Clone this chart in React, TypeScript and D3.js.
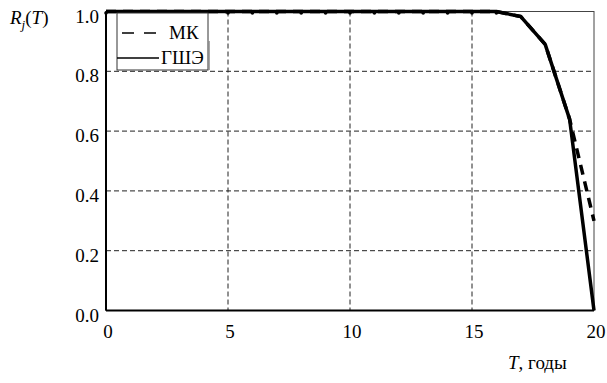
import React, { useEffect, useRef } from 'react'
import * as d3 from 'd3'

const years = [0, 1, 2, 3, 4, 5, 6, 7, 8, 9, 10, 11, 12, 13, 14, 15, 16, 17, 18, 19, 20]
const mkValues = [1, 1, 1, 1, 1, 1, 1, 1, 1, 1, 1, 1, 1, 1, 1, 1, 1, 0.983, 0.89, 0.64, 0.3]
const gseValues = [1, 1, 1, 1, 1, 1, 1, 1, 1, 1, 1, 1, 1, 1, 1, 1, 1, 0.983, 0.89, 0.64, 0.0]
const xTicks = [0, 5, 10, 15, 20]
const yTicks = [0, 0.2, 0.4, 0.6, 0.8, 1.0]
const legendLabels = ['МК', 'ГШЭ']

const App = () => {
    const ref = useRef(null)

    useEffect(() => {
        const width = 607, height = 383
        const margin = { top: 11.5, right: 13, bottom: 72.5, left: 106 }
        const w = width - margin.left - margin.right
        const h = height - margin.top - margin.bottom
        const font = 'Liberation Serif, DejaVu Serif, serif'

        const x = d3.scaleLinear().domain([0, 20]).range([0, w])
        const y = d3.scaleLinear().domain([0, 1]).range([h, 0])

        const root = d3.select(ref.current)
        root.selectAll('*').remove()

        const svg = root.append('svg')
            .attr('width', width)
            .attr('height', height)
            .style('position', 'absolute')
            .style('left', 0)
            .style('top', 0)
            .style('background', '#fff')
            .style('font-family', font)

        const g = svg.append('g')
            .attr('transform', 'translate(' + margin.left + ',' + margin.top + ')')

        // grid
        g.selectAll('.gx')
            .data(xTicks.filter(d => d > 0 && d < 20))
            .enter().append('line')
            .attr('x1', d => x(d)).attr('x2', d => x(d))
            .attr('y1', 0).attr('y2', h)
            .attr('stroke', '#222').attr('stroke-width', 1)
            .attr('stroke-dasharray', '5,3')

        g.selectAll('.gy')
            .data(yTicks.filter(d => d > 0 && d < 1))
            .enter().append('line')
            .attr('x1', 0).attr('x2', w)
            .attr('y1', d => y(d)).attr('y2', d => y(d))
            .attr('stroke', '#222').attr('stroke-width', 1)
            .attr('stroke-dasharray', '5,3')

        // frame
        g.append('rect')
            .attr('x', 0).attr('y', 0)
            .attr('width', w).attr('height', h)
            .attr('fill', 'none')
            .attr('stroke', '#444').attr('stroke-width', 1)
        g.append('line').attr('x1', 0).attr('x2', 0).attr('y1', 0).attr('y2', h)
            .attr('stroke', '#000').attr('stroke-width', 2)
        g.append('line').attr('x1', 0).attr('x2', w).attr('y1', h).attr('y2', h)
            .attr('stroke', '#000').attr('stroke-width', 2)

        // tick labels
        g.selectAll('.yl')
            .data(yTicks)
            .enter().append('text')
            .text(d => d.toFixed(1))
            .attr('x', -7)
            .attr('y', d => y(d) + 11)
            .attr('text-anchor', 'end')
            .style('font-size', '19px')

        g.selectAll('.xl')
            .data(xTicks)
            .enter().append('text')
            .text(d => d)
            .attr('x', d => x(d) + 2)
            .attr('y', h + 27)
            .attr('text-anchor', 'middle')
            .style('font-size', '19px')

        // axis titles
        const yTitle = svg.append('text')
            .attr('x', 10).attr('y', 24)
            .style('font-size', '19px')
        yTitle.append('tspan').attr('font-style', 'italic').text('R')
        yTitle.append('tspan').attr('font-style', 'italic').attr('font-size', '13px').attr('dy', 5).text('j')
        yTitle.append('tspan').attr('dy', -5).text('(')
        yTitle.append('tspan').attr('font-style', 'italic').text('T')
        yTitle.append('tspan').text(')')

        const xTitle = svg.append('text')
            .attr('x', 508).attr('y', 369)
            .style('font-size', '19px')
        xTitle.append('tspan').attr('font-style', 'italic').text('T')
        xTitle.append('tspan').text(', годы')

        // curves
        const line = d3.line()
            .x((d, i) => x(years[i]))
            .y(d => y(d))

        g.append('path')
            .datum(gseValues)
            .attr('d', line)
            .attr('fill', 'none')
            .attr('stroke', '#000')
            .attr('stroke-width', 3.5)
            .attr('stroke-linejoin', 'round')

        g.append('path')
            .datum(mkValues)
            .attr('d', line)
            .attr('fill', 'none')
            .attr('stroke', '#000')
            .attr('stroke-width', 3.5)
            .attr('stroke-dasharray', '10,7')

        g.selectAll('.dot')
            .data(mkValues.slice(0, 17))
            .enter().append('circle')
            .attr('cx', (d, i) => x(years[i]))
            .attr('cy', d => y(d) + 1.5)
            .attr('r', 1.8)
            .attr('fill', '#000')

        // legend
        const lg = svg.append('g').attr('transform', 'translate(117,13)')
        lg.append('rect')
            .attr('width', 91).attr('height', 57)
            .attr('fill', '#fff')
            .attr('stroke', '#333').attr('stroke-width', 1)
        lg.append('line')
            .attr('x1', 5).attr('x2', 45).attr('y1', 20).attr('y2', 20)
            .attr('stroke', '#000').attr('stroke-width', 1.5)
            .attr('stroke-dasharray', '12,10')
        lg.append('line')
            .attr('x1', 0).attr('x2', 42).attr('y1', 45).attr('y2', 45)
            .attr('stroke', '#000').attr('stroke-width', 1.5)
        lg.selectAll('.lt')
            .data(legendLabels)
            .enter().append('text')
            .text(d => d)
            .attr('x', (d, i) => i === 0 ? 52 : 44)
            .attr('y', (d, i) => 26 + i * 25)
            .style('font-size', '19px')
        lg.append('line')
            .attr('x1', 92).attr('x2', 92).attr('y1', 28).attr('y2', 57)
            .attr('stroke', '#888').attr('stroke-width', 1.5)
    })

    return (
        <div ref={ref}></div>
    )
}

export default App
